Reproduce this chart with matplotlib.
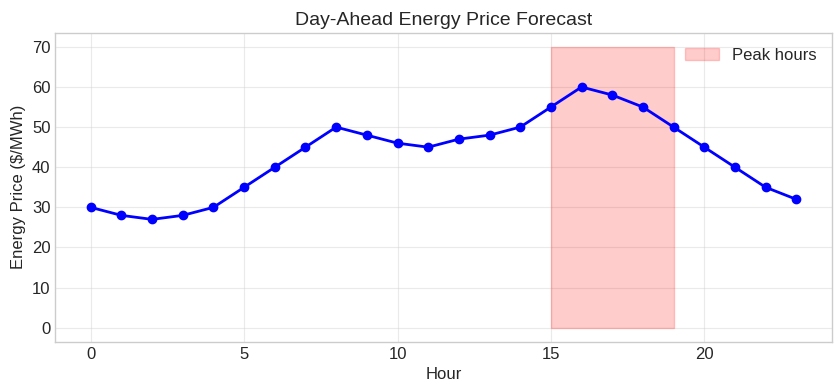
import numpy as np
import matplotlib.pyplot as plt

# 数据
hours = np.arange(24)
prices = [30, 28, 27, 28, 30, 35, 40, 45, 50, 48, 46, 45,
          47, 48, 50, 55, 60, 58, 55, 50, 45, 40, 35, 32]
peak_start, peak_end = 15, 19
peak_top = 70

plt.style.use('seaborn-v0_8-whitegrid')
plt.rcParams['font.family'] = ['Liberation Sans', 'DejaVu Sans']

fig, ax = plt.subplots(figsize=(8.4, 3.91), dpi=100)

ax.plot(hours, prices, 'o-', color='blue', linewidth=2, markersize=6)
ax.fill_between([peak_start, peak_end], 0, peak_top, color='red', alpha=0.2,
                linewidth=1, label='Peak hours')

ax.set_title('Day-Ahead Energy Price Forecast', fontsize=14)
ax.set_xlabel('Hour', fontsize=12)
ax.set_ylabel('Energy Price ($/MWh)', fontsize=12)
ax.tick_params(labelsize=12)
ax.legend(fontsize=12, loc='upper right')
ax.grid(True, alpha=0.4)

for s in ax.spines.values():
    s.set_visible(True)
    s.set_color('0.8')

fig.subplots_adjust(left=0.066, right=0.99, top=0.916, bottom=0.126)
fig.savefig('out.png')
